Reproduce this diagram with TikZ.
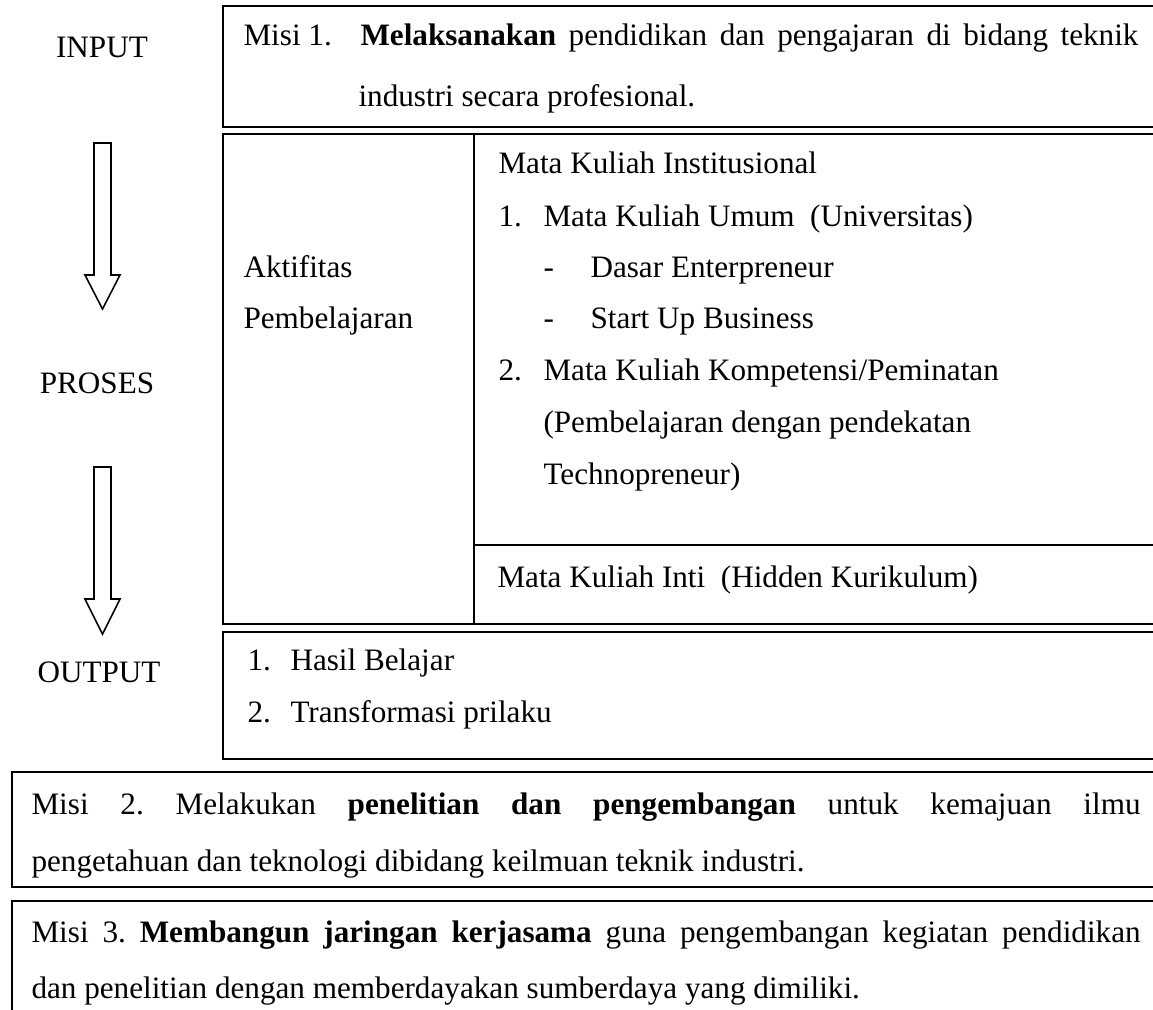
\documentclass[tikz,border=0pt]{standalone}
\usepackage{fontspec}
\setmainfont{Liberation Serif}
\frenchspacing
\tikzset{
  txt/.style={anchor=base west,inner sep=0pt,font=\fontsize{12}{14}\selectfont},
  lbl/.style={anchor=base,inner sep=0pt,font=\fontsize{12}{14}\selectfont},
  frame/.style={line width=0.75pt},
  bigarrow/.style={line width=0.6pt,fill=white}
}

\begin{document}
\begin{tikzpicture}[x=0.385pt,y=-0.385pt]
  \useasboundingbox (0,0) rectangle (1153,1009);
  \clip (0,0) rectangle (1153,1009);
  % frames
  \draw [frame] (223,6) rectangle (1170,127);
  \draw [frame] (223,134) rectangle (1170,624);
  \draw [frame] (474,134) -- (474,624);
  \draw [frame] (474,545) -- (1170,545);
  \draw [frame] (223,632) rectangle (1170,759);
  \draw [frame] (12,772) rectangle (1170,887);
  \draw [frame] (12,901) rectangle (1170,1030);
  % hollow arrows
  \draw [bigarrow] (94,143) -- (111,143) -- (111,275) -- (120,275) -- (102.5,309)
        -- (85,275) -- (94,275) -- cycle;
  \draw [bigarrow] (94,467) -- (111,467) -- (111,599) -- (120,599) -- (102.5,634)
        -- (85,599) -- (94,599) -- cycle;
  % left labels
  \node [lbl] (input) at (102,57) {INPUT};
  \node [lbl] (proses) at (97,393) {PROSES};
  \node [lbl] (output) at (99,682) {OUTPUT};
  % misi 1
  \node [txt] (m1a) at (243,45) {Misi 1.};
  \node [txt] (m1b) at (360,45) {\makebox[299.5pt][s]{\textbf{Melaksanakan} pendidikan dan pengajaran di bidang teknik}};
  \node [txt] (m1c) at (358,106) {industri secara profesional.};
  % proses
  \node [txt] (akt) at (243,277) {Aktifitas};
  \node [txt] (pbl) at (243,328) {Pembelajaran};
  \node [txt] (inst) at (498,173) {Mata Kuliah Institusional};
  \node [txt] (n1) at (498,226) {1.};
  \node [txt] (umum) at (543,226) {Mata Kuliah Umum\ \ (Universitas)};
  \node [txt] (d1) at (543,277) {-};
  \node [txt] (dasar) at (590,277) {Dasar Enterpreneur};
  \node [txt] (d2) at (543,328) {-};
  \node [txt] (start) at (590,328) {Start Up Business};
  \node [txt] (n2) at (498,380) {2.};
  \node [txt] (komp) at (543,380) {Mata Kuliah Kompetensi/Peminatan};
  \node [txt] (komp2) at (543,432) {(Pembelajaran dengan pendekatan};
  \node [txt] (komp3) at (543,484) {Technopreneur)};
  \node [txt] (inti) at (497,587) {Mata Kuliah Inti\ \ (Hidden Kurikulum)};
  % output
  \node [txt] (o1) at (247,670) {1.};
  \node [txt] (hasil) at (290,670) {Hasil Belajar};
  \node [txt] (o2) at (247,722) {2.};
  \node [txt] (trans) at (290,722) {Transformasi prilaku};
  % misi 2
  \node [txt] (m2a) at (31,814) {\makebox[427pt][s]{Misi 2. Melakukan \textbf{penelitian dan pengembangan} untuk kemajuan ilmu}};
  \node [txt] (m2b) at (31,871) {pengetahuan dan teknologi dibidang keilmuan teknik industri.};
  % misi 3
  \node [txt] (m3a) at (31,942) {\makebox[427pt][s]{Misi 3. \textbf{Membangun jaringan kerjasama} guna pengembangan kegiatan pendidikan}};
  \node [txt] (m3b) at (31,998) {dan penelitian dengan memberdayakan sumberdaya yang dimiliki.};
\end{tikzpicture}
\end{document}
